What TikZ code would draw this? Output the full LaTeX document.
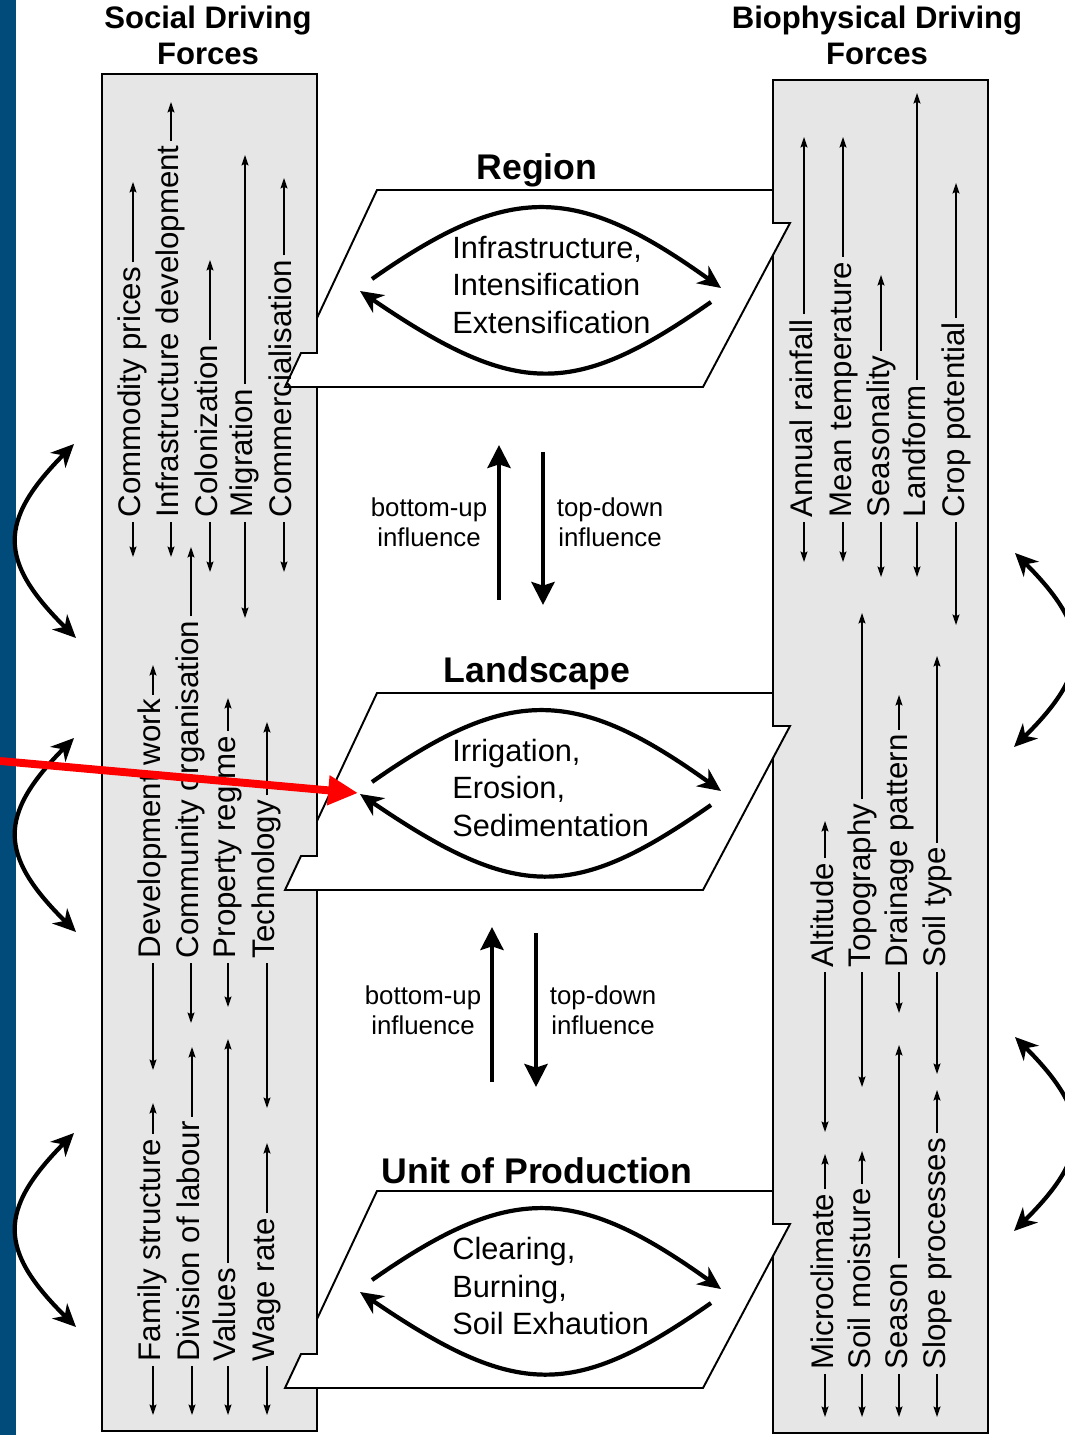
\documentclass[tikz,border=0pt]{standalone}
\usepackage{fontspec}
\setmainfont{Liberation Sans}
\usetikzlibrary{arrows.meta}
\definecolor{stripblue}{RGB}{0,75,122}
\definecolor{boxgray}{RGB}{230,230,230}

\begin{document}
\begin{tikzpicture}
  [x=0.02cm,y=-0.02cm,
   forcebox/.style={fill=boxgray,draw=black,line width=1.3pt},
   plane/.style={fill=white,draw=black,line width=1.1pt},
   sidetitle/.style={font=\bfseries\fontsize{17.7}{20.5}\selectfont,align=center,inner sep=0pt},
   planetitle/.style={font=\bfseries\fontsize{20.3}{24}\selectfont,inner sep=0pt},
   planetext/.style={font=\fontsize{17.5}{21.2}\selectfont,align=left,anchor=west,inner sep=0pt},
   forcelabel/.style={rotate=90,anchor=west,inner xsep=2.5pt,inner ysep=0pt,
     font=\fontsize{17.8}{20}\selectfont,text height=12.6pt,text depth=3.5pt},
   forcearrow/.style={line width=0.8pt,-{Stealth[length=6pt,width=4pt,inset=1pt]}},
   cyclearc/.style={line width=2.4pt,-{Stealth[length=13pt,width=12pt,inset=4pt]}},
   feedback/.style={line width=2.4pt,{Stealth[length=13pt,width=12pt,inset=4pt]}-{Stealth[length=13pt,width=12pt,inset=4pt]}},
   influence/.style={line width=2.8pt,-{Stealth[length=13pt,width=13pt,inset=2pt]}},
   influencelabel/.style={font=\fontsize{14.7}{17}\selectfont,align=center},
   pointer/.style={draw=red,line width=4.5pt,-{Triangle[length=17pt,width=16pt]}}]

  \fill[white] (0,0) rectangle (1064,1435);
  \useasboundingbox (0,0) rectangle (1064,1435);
  \fill[stripblue] (0,0) rectangle (16,1435);

  % driving forces columns
  \node[sidetitle] (social) at (208,35) {Social Driving\\Forces};
  \node[sidetitle] (bio) at (877,35) {Biophysical Driving\\Forces};
  \draw[forcebox] (102,74) rectangle (317,1431);
  \draw[forcebox] (773,80) rectangle (988,1433);

  % the three levels
  \foreach \ty/\nm/\ttl/\txt in
    {190/region/Region/{Infrastructure,\\Intensification\\Extensification},
     693/landsc/Landscape/{Irrigation,\\Erosion,\\Sedimentation},
     1191/unit/Unit of Production/{Clearing,\\Burning,\\Soil Exhaution}}
  {
    \begin{scope}[shift={(0,\ty)}]
      \draw[plane] (377,0) -- (773,0) -- (773,33) -- (790,33) -- (703,197)
        -- (285,197) -- (301,163) -- (317,163) -- (317,128) -- cycle;
      \node[planetitle] (\nm-title) at (537,-20) {\ttl};
      \node[planetext] (\nm-text) at (452,95) {\txt};
      \coordinate (\nm-ul) at (372,89);
      \coordinate (\nm-ur) at (721,98);
      \coordinate (\nm-lr) at (711,112);
      \coordinate (\nm-ll) at (360,101);
      \draw[cyclearc] (\nm-ul) .. controls +(137,-96) and +(-146,-105) .. (\nm-ur);
      \draw[cyclearc] (\nm-lr) .. controls +(-137,96) and +(157,107) .. (\nm-ll);
    \end{scope}
  }

  % forces with their ranges
  \foreach \nm/\x/\yb/\ylo/\yhi/\txt in
    {cp/133/522/557/182/Commodity prices,
     infra/171/522/557/102/Infrastructure development,
     colon/210/522/572/260/Colonization,
     migr/245/522/618/155/Migration,
     comm/284/522/572/178/Commercialisation,
     devw/153/963/1070/665/Development work,
     corg/191/963/1023/547/Community organisation,
     prop/228/963/1007/698/Property regime,
     tech/267/963/1108/722/Technology,
     fam/153/1366/1415/1103/Family structure,
     divl/192/1366/1415/1047/Division of labour,
     val/228/1366/1415/1039/Values,
     wage/267/1366/1415/1143/Wage rate,
     rain/804/522/562/137/Annual rainfall,
     temp/843/522/562/137/Mean temperature,
     seas/881/522/577/275/Seasonality,
     landform/917/522/577/93/Landform,
     crop/956/522/625/183/Crop potential,
     alt/825/972/1132/821/Altitude,
     topo/862/972/1087/613/Topography,
     drain/899/972/1013/695/Drainage pattern,
     soil/937/972/1074/656/Soil type,
     micro/825/1374/1417/1154/Microclimate,
     moist/862/1374/1417/1151/Soil moisture,
     season/899/1374/1417/1045/Season,
     slope/937/1374/1417/1090/Slope processes}
  {
    \node[forcelabel] (\nm) at (\x,\yb) {\txt};
    \coordinate (\nm-lo) at (\x,\ylo);
    \coordinate (\nm-hi) at (\x,\yhi);
    \draw[forcearrow] (\nm.west) -- (\nm-lo);
    \draw[forcearrow] (\nm.east) -- (\nm-hi);
  }

  % influences between levels
  \coordinate (bu1-from) at (499,600);
  \coordinate (bu1-to) at (499,445);
  \coordinate (td1-from) at (543,452);
  \coordinate (td1-to) at (543,605);
  \coordinate (bu2-from) at (492,1082);
  \coordinate (bu2-to) at (492,927);
  \coordinate (td2-from) at (536,933);
  \coordinate (td2-to) at (536,1087);
  \foreach \from/\to in {bu1-from/bu1-to,td1-from/td1-to,bu2-from/bu2-to,td2-from/td2-to}
    \draw[influence] (\from) -- (\to);
  \node[influencelabel] (bu1) at (429,522) {bottom-up\\influence};
  \node[influencelabel] (td1) at (610,522) {top-down\\influence};
  \node[influencelabel] (bu2) at (423,1010) {bottom-up\\influence};
  \node[influencelabel] (td2) at (603,1010) {top-down\\influence};

  % feedbacks at the sides
  \foreach \cy [count=\k] in {541,835,1230} {
    \coordinate (sf\k-a) at (74,\cy-97);
    \coordinate (sf\k-b) at (76,\cy+97);
    \draw[feedback] (sf\k-a) .. controls +(-76,77) and +(-78,-77) .. (sf\k-b);
  }
  \foreach \cy [count=\k] in {650,1134} {
    \coordinate (bf\k-a) at (1015,\cy-97);
    \coordinate (bf\k-b) at (1014,\cy+97);
    \draw[feedback] (bf\k-a) .. controls +(77,77) and +(78,-77) .. (bf\k-b);
  }

  \coordinate (pointer-start) at (0,761);
  \coordinate (pointer-tip) at (358,793);
  \draw[pointer] (pointer-start) -- (pointer-tip);
\end{tikzpicture}
\end{document}
